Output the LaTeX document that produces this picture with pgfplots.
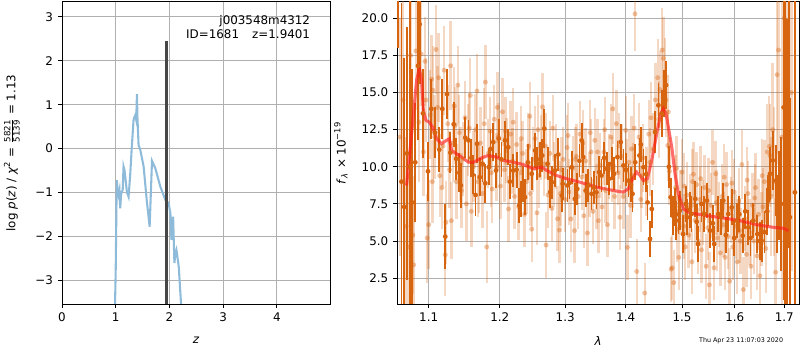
\documentclass[border=0pt]{standalone}
\usepackage{fontspec}
\setmainfont{DejaVu Sans}
\usepackage{pgfplots}
\usepackage{pgfplotstable}
\pgfplotsset{compat=1.18}
\definecolor{dorange}{RGB}{215,100,15}
\definecolor{pblue}{RGB}{143,187,218}
\definecolor{gridgray}{RGB}{176,176,176}
\definecolor{vline}{RGB}{70,70,70}
\definecolor{mred}{RGB}{255,30,30}

\pgfplotstableread{
x y e
1.0600 24.0 6.0
1.0640 9.0 12.0
1.0676 7.3 10.0
1.0712 10.9 8.5
1.0747 10.0 14.0
1.0781 7.6 9.0
1.0821 10.3 4.0
1.0857 16.8 5.0
1.0879 19.6 4.0
1.0923 13.6 3.0
1.0991 9.7 2.0
1.1035 13.9 2.0
1.1085 12.3 1.7
1.1144 11.15 1.5
1.1185 13.9 2.0
1.1226 5.3 2.2
1.1250 14.9 1.7
1.1296 10.95 1.4
1.1342 12.86 1.5
1.1377 10.54 1.4
1.1420 9.6 1.3
1.1443 8.74 1.5
1.1504 11.96 1.4
1.1550 11.78 1.4
1.1590 10.6 1.3
1.1608 9.46 1.3
1.1650 8.1 1.4
1.1670 11.55 1.3
1.1710 9.3 1.3
1.1750 10.2 1.2
1.1789 8.89 1.3
1.1841 9.97 1.2
1.1865 11.2 1.3
1.1905 11.66 1.3
1.1945 9.75 1.2
1.1985 11.9 1.3
1.2025 10.5 1.2
1.2077 11.78 1.3
1.2125 11.32 1.2
1.2150 9.0 1.2
1.2199 9.75 1.1
1.2250 9.8 1.2
1.2290 7.4 1.2
1.2310 7.84 1.2
1.2350 8.85 1.2
1.2376 7.95 1.2
1.2420 10.3 1.2
1.2478 9.53 1.1
1.2530 11.1 1.2
1.2564 10.2 1.1
1.2605 10.5 1.2
1.2641 10.76 1.1
1.2672 12.57 1.3
1.2724 10.2 1.1
1.2765 8.3 1.1
1.2790 8.96 1.1
1.2840 9.75 1.1
1.2892 10.83 1.1
1.2945 8.06 1.1
1.2960 8.85 1.1
1.3036 8.74 1.1
1.3070 8.9 1.1
1.3105 9.97 1.1
1.3157 7.84 1.1
1.3194 8.51 1.1
1.3230 10.4 1.1
1.3265 11.78 1.2
1.3291 10.65 1.1
1.3330 8.4 1.1
1.3373 8.74 1.1
1.3426 8.18 1.1
1.3465 8.6 1.1
1.3509 8.28 1.1
1.3552 9.64 1.1
1.3592 9.41 1.1
1.3635 10.6 1.1
1.3677 9.87 1.1
1.3720 9.2 1.1
1.3762 10.2 1.1
1.3801 9.53 1.1
1.3859 10.65 1.1
1.3915 11.66 1.2
1.3961 10.09 1.1
1.4005 9.8 1.1
1.4047 9.07 1.1
1.4090 8.8 1.2
1.4117 8.18 1.2
1.4165 10.3 1.2
1.4238 10.76 1.2
1.4262 11.5 1.2
1.4309 9.97 1.2
1.4355 9.5 1.2
1.4380 7.6 1.2
1.4424 5.14 1.2
1.4454 7.16 1.3
1.4513 12.34 1.4
1.4572 14.14 1.5
1.4633 13.58 1.6
1.4674 14.93 1.6
1.4710 15.5 1.6
1.4760 10.0 1.4
1.4792 7.95 1.3
1.4828 6.71 1.3
1.4870 7.3 1.3
1.4888 6.37 1.3
1.4935 6.8 1.3
1.4960 7.05 1.3
1.5020 5.47 1.3
1.5070 7.5 1.2
1.5093 6.6 1.2
1.5140 7.1 1.2
1.5174 6.82 1.2
1.5245 7.84 1.2
1.5270 6.3 1.2
1.5297 4.8 1.2
1.5360 7.5 1.2
1.5410 6.82 1.2
1.5464 7.72 1.2
1.5523 5.7 1.2
1.5575 6.2 1.2
1.5602 4.8 1.2
1.5681 6.82 1.2
1.5730 6.6 1.2
1.5777 7.72 1.2
1.5825 5.4 1.2
1.5874 6.82 1.2
1.5940 7.27 1.2
1.5990 5.2 1.2
1.6038 6.37 1.2
1.6090 6.8 1.2
1.6156 5.36 1.2
1.6205 7.0 1.2
1.6267 5.92 1.2
1.6310 5.2 1.2
1.6367 6.37 1.2
1.6447 5.47 1.3
1.6500 5.0 1.3
1.6536 5.02 1.4
1.6590 5.6 1.4
1.6650 7.0 1.6
1.6671 7.72 1.7
1.6705 9.53 1.8
1.6761 10.43 2.0
1.6828 9.07 2.4
1.6854 6.82 2.6
1.6895 8.06 3.0
1.6930 7.5 4.5
1.6985 14.0 13.0
1.7010 14.0 16.0
1.7060 9.97 10.0
1.7090 14.5 10.0
1.7117 6.6 8.0
1.7222 8.28 14.0
}\darkdata

\pgfplotstableread{
x y e
1.0620 12.0 8
1.0660 14.5 7
1.0700 6.0 6
1.0730 4.6 5
1.0760 17.5 5
1.0790 5.4 4
1.0800 3.4 4
1.0830 17.8 4
1.0870 13.0 4
1.0900 17.6 3.5
1.0930 11.0 3
1.0950 17.1 3
1.0980 5.2 3
1.1000 6.1 3
1.1020 13.5 3
1.1040 15.9 3
1.1060 15.15 3
1.1080 12.0 2.8
1.1100 17.9 3
1.1120 14.0 2.8
1.1150 9.4 2.8
1.1180 8.6 2.8
1.1210 16.5 3
1.1226 4.07 2.8
1.1235 6.26 2.8
1.1260 12.9 2.6
1.1300 16.8 3
1.1310 6.37 2.6
1.1330 11.6 2.6
1.1350 14.1 2.6
1.1380 9.0 2.5
1.1400 15.5 2.6
1.1420 12.3 2.5
1.1450 8.4 2.5
1.1470 10.5 2.5
1.1500 13.3 2.5
1.1520 7.5 2.5
1.1540 11.8 2.4
1.1560 12.6 2.4
1.1590 7.0 2.4
1.1620 10.0 2.4
1.1650 12.5 2.4
1.1670 15.1 2.5
1.1700 9.3 2.4
1.1720 11.6 2.4
1.1750 8.2 2.3
1.1790 15.7 2.5
1.1810 4.6 2.4
1.1830 10.9 2.3
1.1860 12.4 2.3
1.1890 8.5 2.3
1.1920 13.2 2.3
1.1950 10.0 2.3
1.1980 12.0 2.3
1.2010 8.7 2.2
1.2040 13.7 2.3
1.2070 9.8 2.2
1.2100 11.1 2.2
1.2130 7.16 2.2
1.2160 12.2 2.2
1.2190 10.4 2.2
1.2220 8.0 2.2
1.2250 11.5 2.2
1.2280 7.3 2.2
1.2310 9.6 2.2
1.2340 10.9 2.2
1.2370 6.8 2.2
1.2400 9.0 2.2
1.2430 11.4 2.2
1.2460 8.2 2.2
1.2478 5.8 2.2
1.2500 10.5 2.2
1.2530 11.9 2.2
1.2560 6.9 2.2
1.2590 9.4 2.2
1.2620 11.3 2.2
1.2645 14.03 2.3
1.2670 10.2 2.2
1.2700 4.73 2.2
1.2730 8.1 2.2
1.2760 10.9 2.2
1.2790 7.2 2.2
1.2820 9.5 2.2
1.2850 10.7 2.2
1.2880 6.5 2.2
1.2910 5.74 2.2
1.2940 9.8 2.2
1.2970 10.5 2.2
1.3000 7.8 2.2
1.3030 11.3 2.2
1.3060 8.3 2.2
1.3090 6.49 2.2
1.3120 9.9 2.2
1.3150 5.7 2.2
1.3180 10.7 2.2
1.3210 8.0 2.2
1.3240 12.2 2.2
1.3270 9.3 2.2
1.3300 6.7 2.2
1.3330 10.4 2.2
1.3360 5.54 2.2
1.3390 8.8 2.2
1.3420 11.0 2.2
1.3450 7.0 2.2
1.3480 11.78 2.2
1.3510 8.0 2.2
1.3540 6.37 2.2
1.3570 10.1 2.2
1.3600 7.3 2.2
1.3630 11.0 2.2
1.3660 8.4 2.2
1.3690 6.1 2.2
1.3720 10.0 2.2
1.3750 12.0 2.2
1.3780 13.9 2.4
1.3810 8.0 2.2
1.3840 12.9 2.3
1.3870 9.6 2.2
1.3900 6.6 2.2
1.3930 10.7 2.2
1.3960 8.0 2.2
1.4000 12.45 2.3
1.4030 4.57 2.2
1.4060 10.3 2.2
1.4080 7.4 2.2
1.4100 11.2 2.2
1.4130 9.4 2.2
1.4160 20.3 2.5
1.4190 2.95 2.2
1.4230 12.0 2.3
1.4260 7.8 2.2
1.4300 10.6 2.3
1.4330 1.5 2.0
1.4360 9.0 2.3
1.4400 12.2 2.3
1.4440 13.3 2.4
1.4480 11.2 2.4
1.4520 14.5 2.5
1.4560 16.0 2.6
1.4600 15.2 2.6
1.4640 17.86 2.8
1.4660 17.3 2.8
1.4690 16.1 2.6
1.4710 14.5 2.5
1.4740 11.44 2.4
1.4770 9.7 2.3
1.4800 3.1 2.2
1.4820 3.2 2.2
1.4850 2.2 2.2
1.4880 8.6 2.2
1.4910 5.8 2.2
1.4940 3.9 2.2
1.4970 7.6 2.2
1.5000 9.64 2.2
1.5030 6.0 2.2
1.5060 4.6 2.2
1.5090 8.1 2.2
1.5120 5.4 2.2
1.5150 7.3 2.2
1.5180 3.6 2.2
1.5210 9.5 2.2
1.5240 6.4 2.2
1.5270 8.8 2.2
1.5300 5.0 2.2
1.5330 7.8 2.2
1.5360 4.4 2.2
1.5390 6.9 2.2
1.5420 8.6 2.2
1.5450 3.3 2.2
1.5480 5.9 2.2
1.5510 2.05 2.2
1.5540 7.4 2.2
1.5570 10.3 2.2
1.5600 3.2 2.2
1.5630 9.53 2.2
1.5660 5.2 2.2
1.5690 6.8 2.2
1.5720 4.2 2.2
1.5750 8.0 2.2
1.5780 6.1 2.2
1.5810 3.9 2.2
1.5840 8.8 2.2
1.5870 5.3 2.2
1.5900 2.3 2.2
1.5930 7.1 2.2
1.5960 4.6 2.2
1.5990 8.3 2.2
1.6020 6.0 2.2
1.6050 3.6 2.2
1.6080 7.7 2.2
1.6110 5.0 2.2
1.6140 10.15 2.3
1.6170 1.73 2.2
1.6200 6.5 2.2
1.6230 4.1 2.2
1.6260 8.2 2.2
1.6290 5.6 2.2
1.6320 3.3 2.2
1.6350 7.4 2.2
1.6380 5.0 2.2
1.6410 8.6 2.3
1.6440 4.0 2.3
1.6470 6.8 2.4
1.6500 2.66 2.4
1.6530 5.8 2.5
1.6560 7.3 2.6
1.6590 9.0 2.8
1.6620 4.5 3.0
1.6650 11.0 3.2
1.6690 11.37 3.4
1.6705 10.76 3.5
1.6730 8.0 4
1.6760 12.5 4.5
1.6790 9.0 5
1.6820 2.9 5
1.6850 16.2 6
1.6880 17.86 7
1.6950 12.0 12
1.7000 20.0 15
1.7060 9.0 14
1.7150 15.0 12
1.0965 14.5 2.8
1.1050 9.0 2.8
1.1135 16.0 3
1.1195 11.4 2.7
1.1285 9.8 2.6
1.1365 12.8 2.6
1.1435 10.2 2.5
1.1575 14.8 2.5
1.1680 9.0 2.4
1.1775 12.9 2.4
1.1875 9.6 2.3
1.1965 14.0 2.4
1.2085 12.4 2.3
1.2200 13.0 2.3
1.2320 11.9 2.2
1.2450 13.4 2.3
1.2575 12.5 2.3
1.2690 11.4 2.2
1.2805 12.6 2.2
1.2925 8.2 2.2
1.3045 12.1 2.2
1.3165 10.5 2.2
1.3285 11.6 2.2
1.3405 12.3 2.2
1.3525 11.0 2.2
1.3645 12.5 2.2
1.3765 9.8 2.2
1.3885 11.4 2.2
1.4015 9.7 2.2
1.4145 12.6 2.3
1.4275 9.4 2.2
1.4420 10.3 2.3
1.4580 13.2 2.6
1.4750 13.7 2.5
1.4900 9.9 2.2
1.5040 8.7 2.2
1.5195 9.0 2.2
1.5345 9.2 2.2
1.5495 8.4 2.2
1.5645 7.6 2.2
1.5795 9.3 2.2
1.5945 8.9 2.2
1.6095 5.7 2.2
1.6245 9.1 2.2
1.6395 7.9 2.3
1.6545 9.4 2.5
}\lightdata

\pgfplotsset{
  every axis/.append style={
    scale only axis,
    axis line style={line width=0.69pt},
    grid=major,
    major grid style={color=gridgray, line width=0.69pt},
    tick align=outside,
    tick pos=left,
    major tick length=3pt,
    every tick/.style={black, line width=0.69pt},
    tick label style={font=\fontsize{8.6}{10}\selectfont},
    label style={font=\fontsize{8.6}{10}\selectfont},
  }
}

\begin{document}
\begin{tikzpicture}
\useasboundingbox (0,0) rectangle (578.2pt,252.9pt);

\begin{axis}[
  at={(44.8pt,33.2pt)}, anchor=south west,
  width=193.7pt, height=218.3pt,
  xmin=0, xmax=4.99, ymin=-3.54, ymax=3.34,
  xtick={0,1,2,3,4}, xticklabels={0,1,2,3,4},
  ytick={-3,-2,-1,0,1,2,3}, yticklabels={−3,−2,−1,0,1,2,3},
  xlabel={\textit{z}},
  xlabel style={at={(axis description cs:0.5,-0.119)}, anchor=center},
  ylabel={log \textit{p}(\textit{z}) / \textit{χ}\textsuperscript{2} = $\frac{\hbox{\fontsize{6.2}{6.2}\selectfont 5821}}{\hbox{\fontsize{6.2}{6.2}\selectfont 5139}}$ = 1.13},
  ylabel style={at={(axis description cs:-0.187,0.5)}, anchor=center},
]
\addplot[pblue, line width=1.5pt] coordinates {
(0.985,-3.7)(1.0,-2.8)(1.015,-1.2)(1.022,-0.72)(1.035,-0.95)(1.053,-1.06)(1.07,-0.95)(1.084,-1.36)(1.10,-1.05)(1.115,-0.98)(1.13,-0.95)(1.146,-0.41)(1.165,-0.5)(1.178,-0.64)(1.21,-1.0)(1.24,-1.10)(1.27,-0.6)(1.30,0.04)(1.333,0.66)(1.35,0.72)(1.364,0.76)(1.383,0.65)(1.39,1.0)(1.396,1.24)(1.405,0.7)(1.426,0.08)(1.458,-0.03)(1.52,-0.41)(1.58,-1.2)(1.632,-1.78)(1.676,-0.28)(1.738,-0.45)(1.832,-0.87)(1.925,-1.17)(1.987,-1.25)(2.019,-1.48)(2.037,-2.08)(2.05,-1.8)(2.069,-1.55)(2.093,-2.61)(2.11,-2.4)(2.131,-2.31)(2.174,-2.69)(2.225,-3.7)
};
\addplot[vline, line width=2.2pt] coordinates {(1.9401,-3.7) (1.9401,2.44)};
\node[anchor=base east, font=\fontsize{8.6}{10}\selectfont] at (axis cs:4.71,2.83) {j003548m4312};
\node[anchor=base east, font=\fontsize{8.6}{10}\selectfont] at (axis cs:4.71,2.504) {ID=1681\hspace{1.1em}z=1.9401};
\end{axis}

\begin{axis}[
  at={(287.1pt,33.2pt)}, anchor=south west,
  width=290.5pt, height=218.3pt,
  xmode=log,
  xmin=1.0585, xmax=1.7313, ymin=0.76, ymax=21.1,
  xtick={1.1,1.2,1.3,1.4,1.5,1.6,1.7},
  xticklabels={1.1,1.2,1.3,1.4,1.5,1.6,1.7},
  minor x tick num=0,
  ytick={2.5,5,7.5,10,12.5,15,17.5,20},
  yticklabels={2.5,5.0,7.5,10.0,12.5,15.0,17.5,20.0},
  xlabel={\textit{λ}},
  xlabel style={at={(axis description cs:0.5,-0.122)}, anchor=center},
  ylabel={\textit{f}\textsubscript{\textit{λ}} × 10\textsuperscript{−19}},
  ylabel style={at={(axis description cs:-0.14,0.5)}, anchor=center},
]
\addplot[only marks, mark=*, mark size=1.8pt, color=dorange,
  mark options={draw opacity=0, fill opacity=0.38},
  error bars/.cd, y dir=both, y explicit, error mark=none,
  error bar style={line width=1.7pt, color=dorange, opacity=0.25}]
  table[x=x, y=y, y error=e] {\lightdata};
\addplot[only marks, mark=*, mark size=1.75pt, color=dorange,
  mark options={draw opacity=0},
  error bars/.cd, y dir=both, y explicit, error mark=none,
  error bar style={line width=1.3pt, color=dorange}]
  table[x=x, y=y, y error=e] {\darkdata};
\addplot[mred, line width=2.2pt, opacity=0.65] coordinates {
(1.0707,8.74)(1.0773,12.23)(1.0839,15.83)(1.0874,16.62)(1.0906,15.83)(1.0928,13.8)(1.0964,13.12)(1.1009,13.0)(1.1053,12.67)(1.1108,11.88)(1.1176,11.54)(1.1235,11.76)(1.1281,11.88)(1.1313,11.09)(1.1383,10.87)(1.1453,10.65)(1.1547,10.31)(1.1618,10.3)(1.1737,10.6)(1.1833,10.76)(1.1955,10.65)(1.2053,10.42)(1.2201,10.31)(1.2351,10.15)(1.2504,9.87)(1.2632,9.98)(1.2709,9.75)(1.2866,9.41)(1.3024,9.19)(1.3238,8.96)(1.3511,8.63)(1.3790,8.40)(1.3959,8.29)(1.4045,8.51)(1.4132,9.30)(1.4190,9.64)(1.4248,9.41)(1.4306,9.08)(1.4376,9.19)(1.4453,10.42)(1.4542,12.23)(1.4613,13.58)(1.4661,13.92)(1.4709,13.58)(1.4751,12.67)(1.4812,11.32)(1.4872,9.52)(1.4933,8.17)(1.5025,7.16)(1.5148,6.89)(1.5460,6.71)(1.5779,6.55)(1.6104,6.37)(1.6436,6.10)(1.6775,5.92)(1.6980,5.86)(1.7085,5.70)
};
\end{axis}

\node[anchor=base east, font=\fontsize{4.6}{5}\selectfont] at (569.5pt,5.6pt) {Thu Apr 23 11:07:03 2020};
\end{tikzpicture}
\end{document}
